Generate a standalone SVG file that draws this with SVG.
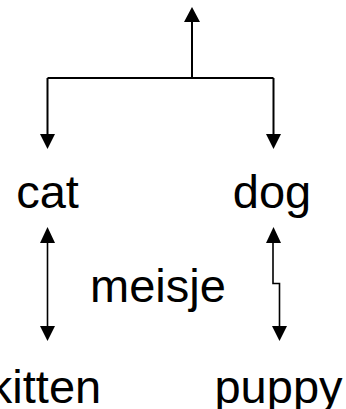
<svg xmlns="http://www.w3.org/2000/svg" width="346" height="409" viewBox="0 0 346 409">
  <style>
    .lbl { font-family: "Liberation Sans", Arial, sans-serif; font-size: 47px; fill: #000; text-anchor: middle; }
    .wire { fill: none; stroke: #000; stroke-width: 2; }
    .thin { fill: none; stroke: #000; stroke-width: 1.6; }
    .head { fill: #000; }
  </style>
  <rect width="346" height="409" fill="#fff"/>

  <g id="connectors">
    <!-- tree: root stem and branches -->
    <path class="wire" d="M192 22 V78 M47.5 78 H273.5 M47.5 78 V134 M273.5 78 V134"/>
    <polygon class="head" points="192,7 184,22 200,22"/>
    <polygon class="head" points="47.5,149 40,134 55,134"/>
    <polygon class="head" points="273.5,149 266,134 281,134"/>

    <!-- cat <-> kitten -->
    <path class="thin" d="M47.5 243 V327"/>
    <polygon class="head" points="47.5,227 40,243 55,243"/>
    <polygon class="head" points="47.5,341 40,326 55,326"/>

    <!-- dog <-> puppy, with a small jog -->
    <path class="thin" d="M273 243 V283.5 H279.5 V327"/>
    <polygon class="head" points="273.5,227 266,243 281,243"/>
    <polygon class="head" points="279.5,341 272,326 287,326"/>
  </g>

  <g id="node-cat"><text class="lbl" x="47.5" y="208">cat</text></g>
  <g id="node-dog"><text class="lbl" x="272" y="208">dog</text></g>
  <g id="node-meisje"><text class="lbl" x="158" y="302">meisje</text></g>
  <g id="node-kitten"><text class="lbl" x="45" y="403">kitten</text></g>
  <g id="node-puppy"><text class="lbl" x="278.5" y="403">puppy</text></g>
</svg>
